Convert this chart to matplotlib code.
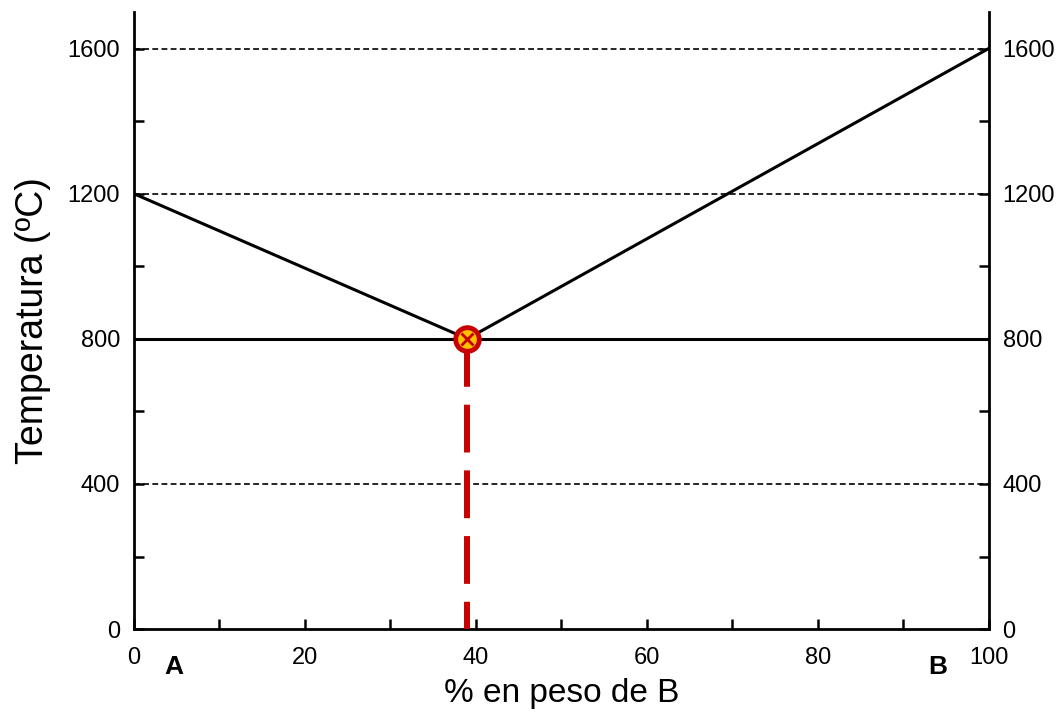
import numpy as np
import matplotlib.pyplot as plt
from matplotlib.ticker import MultipleLocator

plt.rcParams['font.family'] = ['Liberation Sans', 'DejaVu Sans']

# liquidus / eutectic data
liq_x = [0, 39, 100]
liq_t = [1200, 800, 1600]
eut_x = [0, 100]
eut_t = [800, 800]
grid_t = [400, 1200, 1600]
eut_comp = 39
eut_temp = 800

fig = plt.figure(figsize=(10.62, 7.19), dpi=100)
ax = fig.add_axes([0.126, 0.125, 0.805, 0.858])

for g in grid_t:
    ax.plot([0, 100], [g, g], color='black', ls=(0, (3.5, 2)), lw=1.2, zorder=1)
ax.plot(eut_x, eut_t, color='black', lw=2.2, zorder=2)
ax.plot(liq_x, liq_t, color='black', lw=2.2, zorder=2)
ax.plot([eut_comp, eut_comp], [eut_temp, 0], color='#c80000', lw=4.3, ls=(0, (8, 3)), zorder=3)
ax.plot(eut_comp, eut_temp, 'o', ms=17, mfc='#ffc000', mec='#c80000', mew=3.5, zorder=4)
ax.plot(eut_comp, eut_temp, 'x', ms=9, mec='#c80000', mew=2, zorder=5)

ax.set_xlim(0, 100)
ax.set_ylim(0, 1700)
ax.spines['top'].set_visible(False)
for s in ['left', 'right', 'bottom']:
    ax.spines[s].set_linewidth(2)

ax.xaxis.set_major_locator(MultipleLocator(20))
ax.xaxis.set_minor_locator(MultipleLocator(10))
ax.yaxis.set_minor_locator(MultipleLocator(200))
ax.set_yticks([0, 400, 800, 1200, 1600])
ax.tick_params(which='both', direction='in', right=True, labelright=True, top=False,
               labelsize=17, width=1.8, length=7)
ax.tick_params(axis='x', pad=13)
ax.tick_params(axis='y', pad=10)

ax.set_ylabel('Temperatura (ºC)', fontsize=27, labelpad=12)
ax.set_xlabel('% en peso de B', fontsize=24, labelpad=6)

ax.text(4.7, -105, 'A', fontsize=19, fontweight='bold', ha='center', va='center')
ax.text(94.0, -105, 'B', fontsize=19, fontweight='bold', ha='center', va='center')

fig.savefig('out.png', dpi=100)
